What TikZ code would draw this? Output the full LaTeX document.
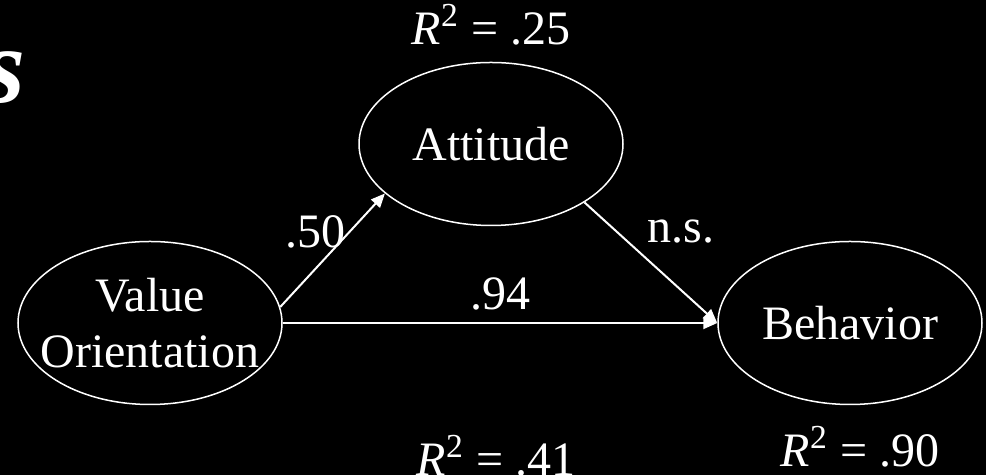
\documentclass[tikz,border=0pt]{standalone}
\usepackage{fontspec}
\setmainfont{Liberation Serif}
\usetikzlibrary{arrows.meta,shapes.geometric}
\tikzset{
  construct/.style={draw=white, line width=0.75pt, ellipse, minimum width=132pt, minimum height=81.5pt, align=center, inner xsep=-8pt, inner ysep=-6pt, text=white, font=\fontsize{24}{28}\selectfont},
  arrow/.style={draw=white, -{Triangle[length=7pt,width=6pt]}, line width=1pt},
  coef/.style={text=white, inner sep=0pt, font=\fontsize{24}{28}\selectfont},
  rsq/.style={text=white, inner sep=0pt, font=\fontsize{24}{28}\selectfont}
}

\begin{document}
\begin{tikzpicture}[x=0.5pt, y=0.5pt]
\fill[black] (0,0) rectangle (986,475);
\useasboundingbox (0,0) rectangle (986,475);
\node[text=white, anchor=base east, inner sep=0pt, font=\fontsize{54}{60}\selectfont\bfseries\itshape] (ttl) at (26,372) {s};
\node[construct] (val) at (150,152) {Value\\Orientation};
\node[construct] (att) at (491,331) {Attitude};
\node[construct] (beh) at (850,152) {Behavior};
\draw[arrow] (val.7) -- (att.205);
\draw[arrow] (att.328) -- (beh.west);
\draw[arrow] (val.east) -- (beh.west);
\node[coef] (c50) at (315,243) {.50};
\node[coef] (c94) at (500,181) {.94};
\node[coef] (cns) at (681,243) {n.s.};
\node[rsq] (r25) at (491,450) {\textit{R}\textsuperscript{2} = .25};
\node[rsq, anchor=base] (r41) at (496,-1) {\textit{R}\textsuperscript{2} = .41};
\node[rsq] (r90) at (860,28) {\textit{R}\textsuperscript{2} = .90};
\end{tikzpicture}
\end{document}
